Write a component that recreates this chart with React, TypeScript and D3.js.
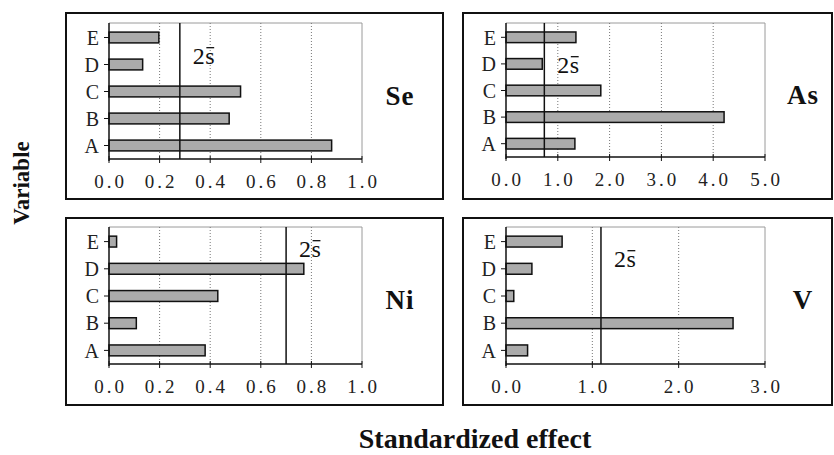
import React from "react";
import * as d3 from "d3";

// variables, listed bottom to top as drawn
const variables = ["A", "B", "C", "D", "E"];

// standardized effects per element (A..E)
const seValues = [0.88, 0.475, 0.52, 0.133, 0.197];
const asValues = [1.33, 4.21, 1.83, 0.7, 1.35];
const niValues = [0.38, 0.108, 0.43, 0.77, 0.03];
const vValues = [0.25, 2.63, 0.09, 0.3, 0.65];

// 2 s-bar threshold per element
const thresholds = [0.28, 0.74, 0.7, 1.1];
const elements = ["Se", "As", "Ni", "V"];

const seTicks = [0, 0.2, 0.4, 0.6, 0.8, 1.0];
const asTicks = [0, 1, 2, 3, 4, 5];
const niTicks = [0, 0.2, 0.4, 0.6, 0.8, 1.0];
const vTicks = [0, 1, 2, 3];

const W = 834;
const H = 455;
const serif = "Liberation Serif";
const fmt = d3.format(".1f");

const panels = [
  { values: seValues, ticks: seTicks, box: [66, 13, 443, 199], plot: [109, 24, 362, 159], labelY: 64 },
  { values: asValues, ticks: asTicks, box: [463, 13, 832, 199], plot: [506, 24, 765, 157], labelY: 73 },
  { values: niValues, ticks: niTicks, box: [66, 218, 443, 405], plot: [109, 228, 362, 364], labelY: 257 },
  { values: vValues, ticks: vTicks, box: [463, 218, 832, 405], plot: [506, 228, 765, 364], labelY: 267 },
];

function Panel({ p, i }: { p: (typeof panels)[number]; i: number }) {
  const [bx0, by0, bx1, by1] = p.box;
  const [px0, py0, px1, py1] = p.plot;
  const x = d3
    .scaleLinear()
    .domain([0, p.ticks[p.ticks.length - 1]])
    .range([px0, px1]);
  const y = d3
    .scaleBand()
    .domain(variables.slice().reverse())
    .range([py0, py1])
    .paddingInner(0.6)
    .paddingOuter(0.3);
  const tx = x(thresholds[i]);
  const fs = 24; // size of the 2s label
  const lx = tx + 13;

  return (
    <g>
      <rect x={bx0} y={by0} width={bx1 - bx0} height={by1 - by0} fill="white" stroke="#111" strokeWidth={2} />
      <path d={`M${px0},${py0 - 1}H${px1}V${py1}`} fill="none" stroke="#9a9a9a" strokeWidth={1} />
      {p.ticks.slice(1, -1).map((t) => (
        <line key={t} x1={x(t)} x2={x(t)} y1={py0 - 1} y2={py1} stroke="#777" strokeDasharray="1,2" />
      ))}
      {p.values.map((v, j) => (
        <rect
          key={j}
          x={x(0)}
          y={y(variables[j])}
          width={x(v) - x(0)}
          height={y.bandwidth()}
          fill="#ababab"
          stroke="#111"
          strokeWidth={1.5}
        />
      ))}
      <line x1={tx} x2={tx} y1={py0 - 1} y2={py1} stroke="#111" strokeWidth={1.5} />
      <text x={lx} y={p.labelY} fontFamily={serif} fontSize={fs} letterSpacing={0.5} fill="#111">
        2s
      </text>
      <line
        x1={lx + fs * 0.5 + 1.5}
        x2={lx + fs * 0.889}
        y1={p.labelY - fs * 0.68}
        y2={p.labelY - fs * 0.68}
        stroke="#111"
        strokeWidth={1.3}
      />
      {/* x axis */}
      <line x1={px0} x2={px1} y1={py1} y2={py1} stroke="#111" strokeWidth={1.5} />
      {p.ticks.map((t) => (
        <g key={t} transform={`translate(${x(t)},${py1})`}>
          <line y1={-3} y2={4} stroke="#111" />
          <text y={29} x={1.5} textAnchor="middle" fontFamily={serif} fontSize={19} letterSpacing={3} fill="#222">
            {fmt(t)}
          </text>
        </g>
      ))}
      {/* y axis */}
      <line x1={px0} x2={px0} y1={py0 - 1} y2={py1 + 2} stroke="#111" strokeWidth={1.5} />
      {variables.map((v) => {
        const cy = y(v)! + y.bandwidth() / 2;
        return (
          <g key={v} transform={`translate(${px0},${cy})`}>
            <line x1={-5} x2={0} stroke="#111" />
            <text x={-10} dy="0.36em" textAnchor="end" fontFamily={serif} fontSize={20} fill="#222">
              {v}
            </text>
          </g>
        );
      })}
      <text
        x={px1 + 38}
        y={(py0 + py1) / 2 + 13}
        textAnchor="middle"
        fontFamily={serif}
        fontWeight="bold"
        fontSize={27}
        letterSpacing={1}
        fill="#111"
      >
        {elements[i]}
      </text>
    </g>
  );
}

export default function App() {
  return (
    <svg width={W} height={H} style={{ position: "absolute", left: 0, top: 0 }}>
      <rect width={W} height={H} fill="white" />
      {panels.map((p, i) => (
        <Panel key={i} p={p} i={i} />
      ))}
      <text
        transform="translate(29,183) rotate(-90)"
        textAnchor="middle"
        fontFamily={serif}
        fontWeight="bold"
        fontSize={23}
        fill="#111"
      >
        Variable
      </text>
      <text x={475} y={448} textAnchor="middle" fontFamily={serif} fontWeight="bold" fontSize={28} fill="#111">
        Standardized effect
      </text>
    </svg>
  );
}
